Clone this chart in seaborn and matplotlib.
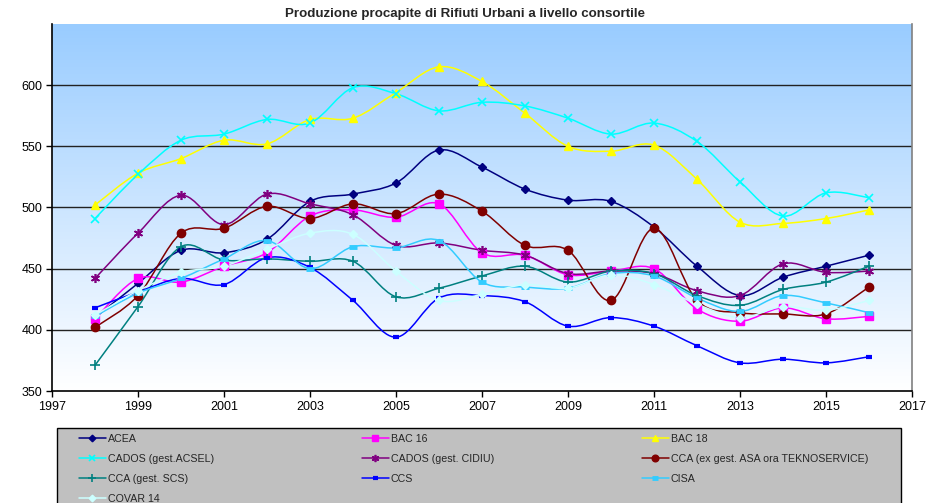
import numpy as np
import matplotlib
matplotlib.use("Agg")
import matplotlib.pyplot as plt
import seaborn as sns
from matplotlib.path import Path
from matplotlib.patches import PathPatch, Rectangle
from matplotlib.lines import Line2D
from matplotlib.colors import LinearSegmentedColormap

# --- data (kg/ab/anno) ---
years = list(range(1998, 2017))

acea = [410, 438, 465, 463, 474, 505, 511, 520, 547, 533, 515, 506, 505, 484, 452, 428, 443, 452, 461]
bac16 = [409, 442, 439, 452, 463, 493, 498, 492, 503, 463, 461, 445, 448, 450, 417, 407, 418, 409, 411]
bac18 = [502, 528, 540, 555, 552, 572, 573, 594, 615, 603, 577, 550, 546, 551, 523, 488, 487, 491, 498]
cados_acsel = [491, 527, 555, 560, 572, 569, 598, 593, 579, 586, 583, 573, 560, 569, 554, 521, 493, 512, 508]
cados_cidiu = [442, 479, 510, 486, 511, 503, 494, 469, 471, 465, 461, 446, 448, 446, 432, 428, 454, 447, 448]
cca_asa = [402, 428, 479, 483, 501, 491, 503, 495, 511, 497, 469, 465, 424, 483, 424, 414, 413, 413, 435]
cca_scs = [371, 419, 468, 457, 458, 456, 456, 427, 434, 444, 452, 439, 448, 446, 428, 420, 433, 439, 452]
ccs = [418, 431, 442, 437, 459, 451, 424, 394, 426, 428, 423, 403, 410, 403, 387, 373, 376, 373, 378]
cisa = [411, 430, 442, 458, 473, 450, 468, 467, 473, 439, 435, 434, 446, 444, 426, 415, 428, 422, 414]
covar14 = [412, 432, 447, 452, 466, 479, 478, 448, 424, 429, 437, 434, 445, 437, 421, 410, 419, 416, 424]

series_names = ["ACEA", "BAC 16", "BAC 18", "CADOS (gest.ACSEL)", "CADOS (gest. CIDIU)",
                "CCA (ex gest. ASA ora TEKNOSERVICE)", "CCA (gest. SCS)", "CCS", "CISA", "COVAR 14"]
series_values = [acea, bac16, bac18, cados_acsel, cados_cidiu, cca_asa, cca_scs, ccs, cisa, covar14]

# style per series: colour, marker, size, marker edge width
styles = {
    "ACEA": ("#000080", "D", 4.2, 1.0),
    "BAC 16": ("#FF00FF", "s", 5.5, 1.0),
    "BAC 18": ("#FFFF00", "^", 6, 1.0),
    "CADOS (gest.ACSEL)": ("#00FFFF", "x", 5.5, 1.2),
    "CADOS (gest. CIDIU)": ("#800080", (6, 2, 0), 6.5, 1.2),
    "CCA (ex gest. ASA ora TEKNOSERVICE)": ("#800000", "o", 6, 1.0),
    "CCA (gest. SCS)": ("#008080", "+", 6.5, 1.2),
    "CCS": ("#0000FF", "_", 4.5, 3.0),
    "CISA": ("#33CCFF", "_", 5.5, 3.5),
    "COVAR 14": ("#CCFFFF", "D", 4.2, 1.0),
}

sns.set_theme(style="white")
plt.rcParams["font.family"] = ["Liberation Sans", "DejaVu Sans"]


def smooth_path(xs, ys):
    # Excel-like smoothed line: Catmull-Rom converted to cubic Bezier segments
    pts = np.column_stack([xs, ys]).astype(float)
    n = len(pts)
    verts = [pts[0]]
    codes = [Path.MOVETO]
    for i in range(n - 1):
        p0 = pts[i - 1] if i > 0 else pts[i]
        p1 = pts[i]
        p2 = pts[i + 1]
        p3 = pts[i + 2] if i + 2 < n else pts[i + 1]
        verts += [p1 + (p2 - p0) / 6.0, p2 - (p3 - p1) / 6.0, p2]
        codes += [Path.CURVE4] * 3
    return Path(verts, codes)


W, H = 948, 503
fig = plt.figure(figsize=(W / 100, H / 100), dpi=100)
ax = fig.add_axes([52 / W, (H - 391) / H, 860 / W, 367 / H])

# gradient background (white at bottom -> light blue at top)
cmap = LinearSegmentedColormap.from_list("bg", ["#FFFFFF", "#99CCFF"])
grad = np.linspace(0, 1, 256).reshape(-1, 1)
ax.imshow(grad, extent=[1997, 2017, 350, 650], origin="lower", aspect="auto",
          cmap=cmap, zorder=0)

for v in [400, 450, 500, 550, 600]:
    ax.axhline(v, color="#222222", lw=1.0, zorder=1)

for name, vals in zip(series_names, series_values):
    col, mk, ms, mew = styles[name]
    ax.add_patch(PathPatch(smooth_path(years, vals), facecolor="none", edgecolor=col,
                           lw=1.1, zorder=3))
    sns.lineplot(x=years, y=vals, ax=ax, color=col, marker=mk, markersize=ms,
                 markeredgewidth=mew, markeredgecolor=col, linestyle="", zorder=4)

ax.set_xlim(1997, 2017)
ax.set_ylim(350, 650)
ax.set_xticks(range(1997, 2018, 2))
ax.set_yticks(range(350, 601, 50))
ax.tick_params(axis="both", labelsize=9, colors="black", length=4, width=1,
               direction="out", bottom=True, left=True, pad=3)
ax.set_xlabel("")
ax.set_ylabel("")
for s in ["left", "bottom"]:
    ax.spines[s].set_color("black")
    ax.spines[s].set_linewidth(1.2)
ax.spines["right"].set_color("#808080")
ax.spines["right"].set_linewidth(1.2)
ax.spines["top"].set_visible(False)

fig.text(465 / W, 1 - 14 / H, "Produzione procapite di Rifiuti Urbani a livello consortile",
         ha="center", va="center", fontsize=9.6, fontweight="bold")

# legend box: grey frame, three equal columns filled row by row
fig.patches.append(Rectangle((57 / W, -10 / H), 844 / W, (H - 428 + 10) / H,
                             transform=fig.transFigure, facecolor="#C0C0C0",
                             edgecolor="black", lw=1.0, zorder=0))
col_x = [79, 362, 642]
for c in range(3):
    handles, labels = [], []
    for name in series_names[c::3]:
        col, mk, ms, mew = styles[name]
        handles.append(Line2D([], [], color=col, lw=1.1, marker=mk, markersize=ms * 0.8,
                              markeredgewidth=mew, markeredgecolor=col))
        labels.append(name)
    fig.legend(handles, labels, loc="upper left",
               bbox_to_anchor=(col_x[c] / W, 1 - 434 / H),
               fontsize=7.7, frameon=False, handlelength=2.5, handletextpad=0.2,
               labelspacing=0.93, borderpad=0, borderaxespad=0)

fig.savefig("out.png", dpi=100)
